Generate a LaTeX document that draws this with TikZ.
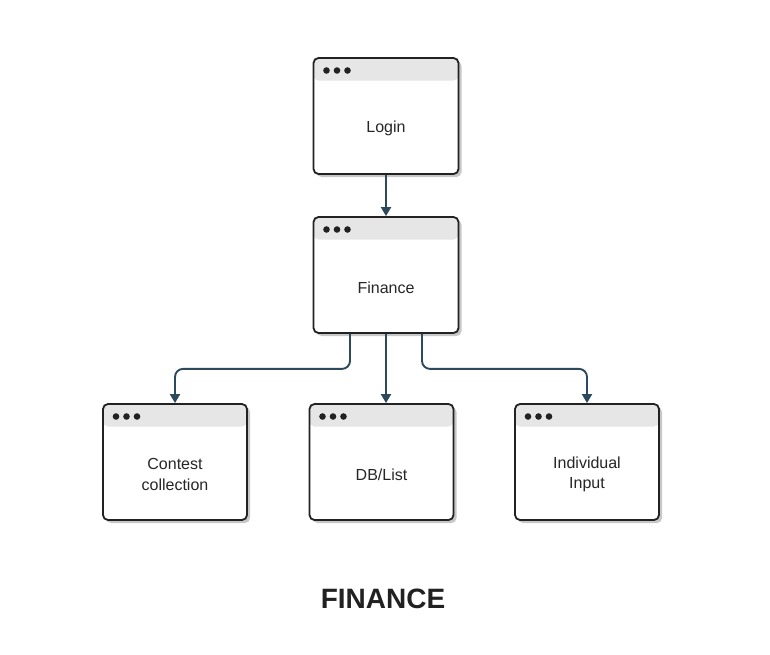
\documentclass[tikz,border=0pt]{standalone}
\usepackage{fontspec}
\setmainfont{Liberation Sans}
\usetikzlibrary{arrows.meta,shadows}
\definecolor{edgeblue}{HTML}{2C4A5C}
\definecolor{hdr}{HTML}{E6E6E6}
\definecolor{brd}{HTML}{222222}
\tikzset{
  win/.style={draw=brd, line width=1.8pt, fill=white, rounded corners=5pt,
    minimum width=144pt, minimum height=116pt, inner sep=0pt,
    drop shadow={shadow xshift=3pt, shadow yshift=-3pt, fill=black!22, opacity=1},
    path picture={
      \fill[hdr] (path picture bounding box.north west) rectangle ([yshift=-22.5pt]path picture bounding box.north east);
      \foreach \dx in {13,23.5,34}{
        \fill[brd] ([xshift=\dx pt, yshift=-12.5pt]path picture bounding box.north west) circle (3.3pt);
      }
    }},
  wintext/.style={font=\fontsize{16}{20.5}\selectfont, text=black!85, align=center, yshift=-12.5pt},
  conn/.style={draw=edgeblue, line width=1.9pt, -{Triangle[length=9pt,width=10pt]}},
  bentconn/.style={conn, rounded corners=8pt}
}
\begin{document}
\begin{tikzpicture}[x=1pt,y=1pt]
\useasboundingbox (0,0) rectangle (770,-654);
\node[win, minimum width=145pt, label={[wintext]center:Login}] (login) at (386,-116) {};
\node[win, minimum width=145pt, label={[wintext]center:Finance}] (fin) at (386,-275) {};
\node[win, label={[wintext]center:Contest\\collection}] (contest) at (175,-462) {};
\node[win, label={[wintext]center:DB/List}] (db) at (381.5,-462) {};
\node[win, label={[wintext]center:Individual\\Input}] (ind) at (587,-462) {};
\node[font=\bfseries\fontsize{28}{32}\selectfont, text=black!87] (title) at (383,-599) {FINANCE};
\draw[conn] (login.south) -- (fin.north);
\draw[conn] (fin.south) -- (fin.south |- db.north);
\draw[bentconn] ([xshift=-36pt]fin.south) -- ++(0,-35) -| (contest.north);
\draw[bentconn] ([xshift=36pt]fin.south) -- ++(0,-35) -| (ind.north);
\end{tikzpicture}
\end{document}
